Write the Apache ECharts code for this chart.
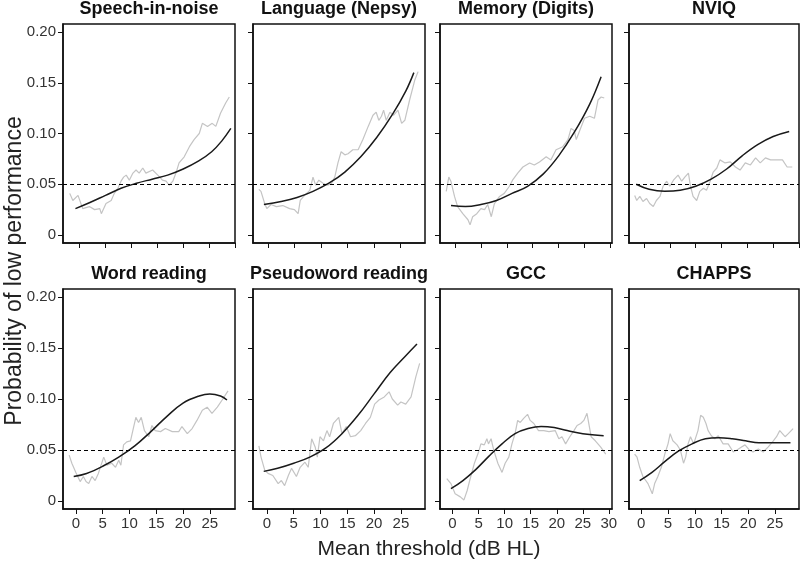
<!DOCTYPE html>
<html>
<head>
<meta charset="utf-8">
<script src="https://cdn.jsdelivr.net/npm/echarts@6/dist/echarts.min.js"></script>
<style>
  html, body { margin: 0; padding: 0; background: #fff; }
  #main { width: 800px; height: 561px; }
</style>
</head>
<body>
<div id="main"></div>
<script>
// panel titles, in reading order
var titles = ['Speech-in-noise', 'Language (Nepsy)', 'Memory (Digits)', 'NVIQ',
              'Word reading', 'Pseudoword reading', 'GCC', 'CHAPPS'];

// x range of each panel (dB HL)
var xMin = [-3.2, -2.8, -2.9, -2.9, -2.4, -2.6, -2.4, -2.3];
var xMax = [30.0, 29.6, 30.3, 30.0, 29.7, 29.5, 30.6, 29.5];

var xTicks = [0, 5, 10, 15, 20, 25, 30];
var yTicks = [0, 0.05, 0.10, 0.15, 0.20];
var cutoff = 0.05;

// fitted curves (black) and running estimates (grey)
var speechFit = [[-0.8,0.026],[2,0.032],[5,0.039],[8,0.046],[11,0.051],[14,0.055],[17,0.059],[20,0.065],[23,0.073],[25.5,0.082],[27.5,0.093],[29.2,0.105]];
var speechRaw = [[-1.9,0.041],[-1.3,0.034],[-0.3,0.039],[0.6,0.026],[1.9,0.028],[2.9,0.025],[3.9,0.026],[4.2,0.021],[5.1,0.031],[6.1,0.034],[6.7,0.041],[7.4,0.046],[8.0,0.053],[8.5,0.057],[9.0,0.059],[9.6,0.054],[10.3,0.061],[10.9,0.064],[11.5,0.061],[12.2,0.066],[12.8,0.061],[14.1,0.064],[15.1,0.059],[16.0,0.054],[16.7,0.053],[17.3,0.049],[18.0,0.053],[18.6,0.061],[19.2,0.071],[20.2,0.077],[21.2,0.087],[22.1,0.094],[23.1,0.100],[23.7,0.110],[24.7,0.107],[25.6,0.110],[26.3,0.107],[27.2,0.120],[28.2,0.130],[28.9,0.136]];

var languageFit = [[-0.75,0.030],[2.5,0.033],[5.5,0.037],[8.5,0.043],[11.5,0.051],[14.5,0.062],[17.5,0.077],[20.5,0.096],[23.5,0.119],[26,0.142],[27.5,0.160]];
var languageRaw = [[-1.7,0.045],[-1.3,0.043],[-0.6,0.031],[-0.2,0.026],[0.6,0.030],[1.6,0.028],[2.8,0.029],[4.1,0.026],[5.0,0.025],[5.7,0.021],[6.1,0.034],[6.9,0.039],[7.9,0.044],[8.5,0.057],[9.0,0.049],[9.6,0.054],[10.4,0.051],[11.3,0.049],[12.0,0.051],[12.6,0.057],[13.2,0.071],[13.8,0.082],[14.5,0.079],[15.1,0.080],[16.0,0.084],[17.0,0.084],[17.9,0.094],[18.9,0.107],[19.8,0.118],[20.4,0.121],[20.9,0.113],[21.4,0.117],[21.8,0.123],[22.3,0.113],[23.0,0.121],[23.7,0.118],[24.5,0.123],[25.2,0.110],[25.8,0.113],[26.7,0.133],[27.7,0.153],[28.3,0.161]];

var memoryFit = [[-0.77,0.029],[2,0.028],[5,0.030],[8,0.034],[11,0.041],[14,0.048],[17,0.060],[20,0.078],[23,0.101],[26,0.129],[28.2,0.156]];
var memoryRaw = [[-1.7,0.043],[-1.2,0.057],[-0.8,0.053],[-0.1,0.038],[0.5,0.028],[1.5,0.021],[2.5,0.015],[2.9,0.010],[3.4,0.018],[4.2,0.021],[5.0,0.026],[5.7,0.025],[6.3,0.030],[7.0,0.018],[7.6,0.031],[8.6,0.038],[9.5,0.041],[10.5,0.048],[11.1,0.054],[12.1,0.061],[13.1,0.067],[14.4,0.071],[15.3,0.069],[16.3,0.072],[17.6,0.077],[18.5,0.074],[19.5,0.084],[20.8,0.087],[21.8,0.094],[22.4,0.105],[23.0,0.103],[23.4,0.094],[24.0,0.102],[25.0,0.115],[26.0,0.117],[26.9,0.115],[27.6,0.133],[28.2,0.136],[28.8,0.135]];

var nviqFit = [[-1.5,0.050],[1,0.045],[4,0.043],[7,0.044],[10,0.048],[13,0.055],[16,0.065],[19,0.078],[22,0.089],[25,0.097],[28.1,0.102]];
var nviqRaw = [[-1.8,0.039],[-1.4,0.034],[-0.8,0.038],[-0.2,0.033],[0.5,0.036],[1.1,0.031],[1.8,0.028],[2.4,0.034],[3.1,0.038],[3.7,0.048],[4.4,0.053],[5.0,0.048],[5.7,0.054],[6.6,0.059],[7.3,0.053],[7.9,0.057],[8.6,0.061],[9.0,0.048],[9.5,0.038],[10.2,0.034],[10.8,0.043],[11.5,0.046],[12.1,0.044],[12.8,0.053],[13.4,0.062],[14.1,0.066],[14.7,0.074],[15.7,0.071],[16.7,0.072],[17.7,0.067],[18.6,0.064],[19.6,0.071],[20.6,0.069],[21.6,0.076],[22.5,0.071],[23.5,0.076],[24.5,0.074],[25.8,0.074],[26.8,0.074],[27.7,0.067],[28.7,0.067]];

var wordFit = [[-0.4,0.024],[2,0.027],[5,0.034],[8,0.043],[11,0.054],[14,0.068],[17,0.083],[20,0.096],[23,0.103],[25,0.105],[27,0.103],[28.2,0.099]];
var wordRaw = [[-1.25,0.045],[-0.75,0.037],[0.0,0.028],[0.8,0.019],[1.4,0.024],[1.9,0.019],[2.4,0.017],[3.0,0.024],[3.6,0.020],[4.2,0.027],[5.2,0.043],[5.8,0.035],[6.7,0.037],[7.4,0.033],[8.0,0.040],[8.4,0.035],[8.9,0.055],[9.5,0.058],[10.2,0.059],[10.8,0.073],[11.2,0.082],[11.7,0.077],[12.2,0.082],[12.8,0.069],[13.6,0.063],[14.2,0.074],[14.8,0.069],[15.8,0.068],[16.7,0.071],[18.0,0.068],[19.2,0.068],[19.8,0.073],[20.8,0.066],[21.7,0.071],[22.6,0.079],[23.6,0.089],[24.5,0.092],[25.4,0.086],[26.4,0.092],[27.3,0.099],[28.4,0.108]];

var pseudoFit = [[-0.6,0.029],[2,0.032],[5,0.037],[8,0.043],[11,0.052],[14,0.066],[17,0.084],[20,0.105],[23,0.126],[26,0.143],[28,0.154]];
var pseudoRaw = [[-1.5,0.054],[-1.1,0.043],[-0.4,0.030],[0.2,0.027],[1.1,0.025],[2.1,0.017],[2.7,0.020],[3.3,0.015],[4.0,0.025],[4.6,0.032],[5.5,0.024],[6.2,0.033],[7.1,0.038],[7.7,0.033],[8.35,0.061],[9.0,0.053],[9.4,0.043],[9.9,0.063],[10.55,0.059],[11.2,0.069],[11.7,0.063],[12.4,0.076],[13.4,0.082],[14.0,0.066],[14.8,0.073],[15.6,0.063],[16.5,0.064],[17.5,0.069],[18.4,0.076],[19.3,0.082],[20.1,0.095],[20.9,0.099],[21.9,0.102],[22.8,0.107],[23.4,0.100],[24.4,0.094],[25.0,0.097],[25.9,0.095],[26.9,0.102],[27.8,0.122],[28.5,0.135]];

var gccFit = [[-0.3,0.012],[2,0.020],[4.5,0.031],[7,0.044],[9.5,0.056],[12,0.066],[14.5,0.071],[17,0.073],[19.5,0.072],[22,0.069],[25,0.066],[29.0,0.064]];
var gccRaw = [[-1.1,0.022],[-0.3,0.017],[0.5,0.007],[1.5,0.004],[2.2,0.001],[2.8,0.010],[3.4,0.022],[4.2,0.037],[5.0,0.048],[5.45,0.056],[6.1,0.055],[6.6,0.061],[6.9,0.056],[7.4,0.061],[7.9,0.050],[8.7,0.037],[9.5,0.028],[10.1,0.037],[10.8,0.043],[11.4,0.056],[12.0,0.066],[12.5,0.079],[13.0,0.077],[13.65,0.081],[14.4,0.085],[14.9,0.079],[15.6,0.076],[16.5,0.069],[17.5,0.069],[18.5,0.068],[19.7,0.069],[20.4,0.061],[21.0,0.063],[21.7,0.056],[22.5,0.063],[23.3,0.069],[23.9,0.074],[24.6,0.076],[25.2,0.079],[25.8,0.086],[26.6,0.063],[27.4,0.059],[28.4,0.053],[29.4,0.046]];

var chappsFit = [[-0.3,0.020],[2,0.028],[4.5,0.039],[7,0.049],[9.5,0.056],[12,0.061],[14.5,0.062],[17,0.061],[19.5,0.059],[22,0.057],[25,0.057],[27.9,0.057]];
var chappsRaw = [[-1.25,0.046],[-0.8,0.043],[-0.3,0.033],[0.3,0.024],[1.25,0.017],[2.06,0.007],[2.5,0.017],[3.1,0.024],[3.75,0.033],[4.4,0.046],[5.0,0.056],[5.4,0.066],[5.9,0.059],[6.7,0.055],[7.3,0.050],[7.9,0.037],[8.3,0.043],[8.75,0.056],[9.2,0.063],[9.8,0.056],[10.6,0.069],[11.1,0.084],[11.6,0.082],[12.1,0.076],[12.5,0.069],[13.1,0.064],[13.75,0.061],[14.4,0.064],[15.3,0.056],[16.25,0.056],[17.2,0.048],[17.9,0.050],[18.75,0.053],[19.4,0.055],[20.2,0.050],[20.9,0.048],[21.9,0.051],[22.8,0.048],[23.75,0.053],[24.7,0.059],[25.3,0.063],[25.9,0.069],[26.9,0.063],[27.5,0.066],[28.4,0.071]];

var fits = [speechFit, languageFit, memoryFit, nviqFit, wordFit, pseudoFit, gccFit, chappsFit];
var raws = [speechRaw, languageRaw, memoryRaw, nviqRaw, wordRaw, pseudoRaw, gccRaw, chappsRaw];

// layout of the 2 x 4 panels
var colLeft = [63, 253, 440, 629];
var colWidth = [172, 172, 172, 170];
var rowTop = [24, 289];
var rowHeight = [219, 220];
var FONT = '"Liberation Sans", Arial, sans-serif';

var myChart = echarts.init(document.getElementById('main'));

var grids = [], xAxes = [], yAxes = [], series = [], graphics = [];

for (var i = 0; i < 8; i++) {
  var col = i % 4, row = Math.floor(i / 4);
  grids.push({
    left: colLeft[col], top: rowTop[row], width: colWidth[col], height: rowHeight[row],
    show: true, borderColor: '#111', borderWidth: 1.5, backgroundColor: 'transparent'
  });
  var ticksX = xTicks.filter(function (v) { return v >= xMin[i] && v <= xMax[i] + 0.01; });
  xAxes.push({
    type: 'value', gridIndex: i, min: xMin[i], max: xMax[i],
    axisLine: { show: true, onZero: false, lineStyle: { color: '#111', width: 1.5 } },
    axisTick: { show: true, length: 5, customValues: ticksX, lineStyle: { color: '#111' } },
    axisLabel: {
      show: row === 1, customValues: ticksX, margin: 7,
      color: '#333', fontSize: 15, fontFamily: FONT
    },
    splitLine: { show: false }
  });
  yAxes.push({
    type: 'value', gridIndex: i, min: -0.0079, max: 0.2079,
    axisLine: { show: true, onZero: false, lineStyle: { color: '#111', width: 1.5 } },
    axisTick: { show: true, length: 5, customValues: yTicks, lineStyle: { color: '#111' } },
    axisLabel: {
      show: col === 0, customValues: yTicks, margin: 7,
      color: '#333', fontSize: 15, fontFamily: FONT,
      formatter: function (v) { return v === 0 ? '0' : v.toFixed(2); }
    },
    splitLine: { show: false }
  });
  series.push({
    type: 'line', xAxisIndex: i, yAxisIndex: i, data: raws[i],
    showSymbol: false, silent: true, z: 2,
    lineStyle: { color: '#c4c4c4', width: 1.2 }
  });
  series.push({
    type: 'line', xAxisIndex: i, yAxisIndex: i, data: fits[i],
    showSymbol: false, silent: true, smooth: 0.4, z: 3,
    lineStyle: { color: '#1a1a1a', width: 1.5 },
    markLine: {
      silent: true, symbol: 'none', label: { show: false },
      lineStyle: { color: '#000', type: [4, 3], width: 1 },
      data: [{ yAxis: cutoff }]
    }
  });
  graphics.push({
    type: 'text', x: colLeft[col] + colWidth[col] / 2, y: row === 0 ? 9 : 274,
    style: { text: titles[i], align: 'center', verticalAlign: 'middle',
             font: 'bold 18px ' + FONT, fill: '#111' }
  });
}

graphics.push({
  type: 'text', x: 429, y: 549,
  style: { text: 'Mean threshold (dB HL)', align: 'center', verticalAlign: 'middle',
           font: '21px ' + FONT, fill: '#222' }
});
graphics.push({
  type: 'text', x: 15, y: 271, rotation: Math.PI / 2,
  style: { text: 'Probability of low performance', align: 'center', verticalAlign: 'middle',
           font: '23px ' + FONT, fill: '#222' }
});

myChart.setOption({
  animation: false,
  backgroundColor: '#fff',
  grid: grids,
  xAxis: xAxes,
  yAxis: yAxes,
  series: series,
  graphic: graphics
});
</script>
</body>
</html>
